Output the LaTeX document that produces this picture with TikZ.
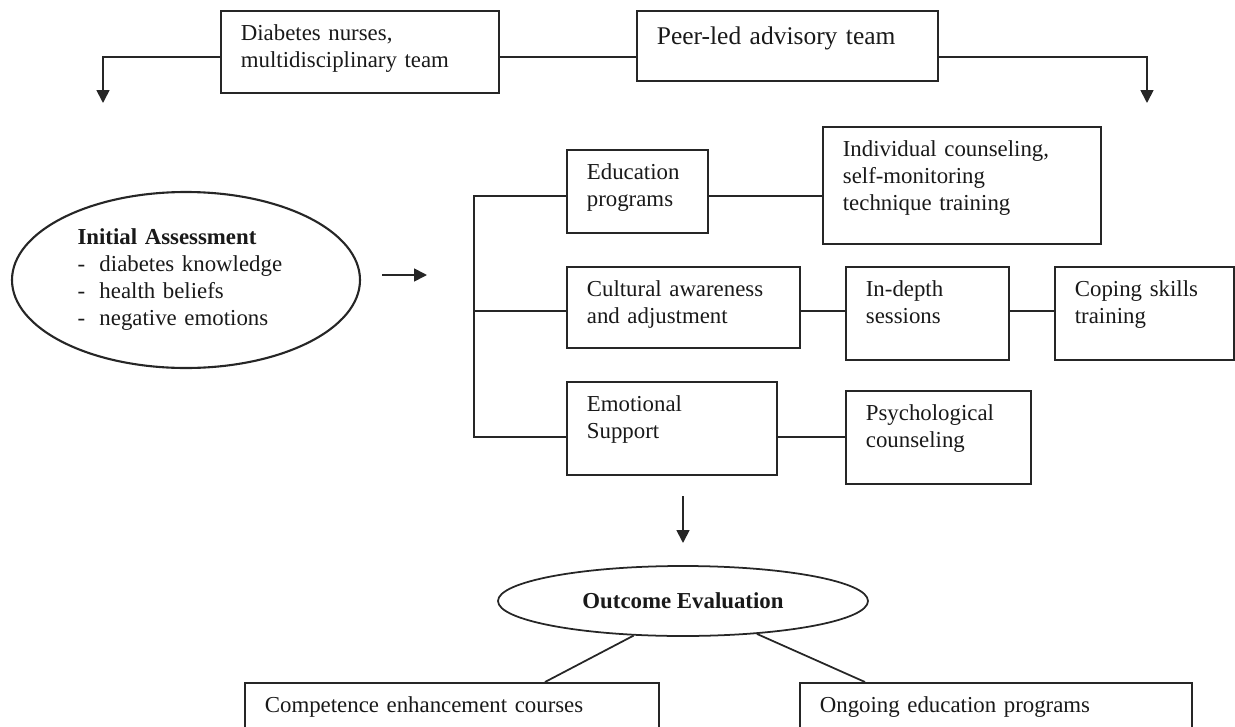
\documentclass[tikz,border=0pt]{standalone}
\usepackage{fontspec}
\setmainfont{Liberation Serif}
\usepackage{tikz}
\usetikzlibrary{positioning}
\usetikzlibrary{arrows.meta,shapes}
\usetikzlibrary{calc}

% one pixel of the layout
\newdimen\pu
\pu=0.02cm

\tikzset{
  box/.style 2 args={draw=black!85, line width=1pt, anchor=north west, align=left,
     inner xsep=20\pu, inner ysep=0pt, text height=30\pu, text width=#1\pu, text depth=#2\pu},
  oval/.style={draw=black!85, ellipse, inner sep=0pt, line width=1.2pt},
  conn/.style={draw=black!85, line width=1pt},
  arr/.style={conn, -{Triangle[width=7.4pt,length=7.4pt]}},
}

\begin{document}
\begin{tikzpicture}[x=0.02cm, y=-0.02cm, font=\fontsize{13}{15.36}\selectfont, text=black!90]

  \clip (0,0) rectangle (1235,727);

  %top teams
  \node[box={238}{52}] (nurse) at (220,10) {Diabetes nurses,\\multidisciplinary team};
  \node[box={261}{36}, text height=34\pu, font=\fontsize{14.5}{17}\selectfont] (peer) at (636,10) {Peer-led advisory team};

  \coordinate (row) at (0,57);
  \coordinate (leftend) at (103,103);
  \coordinate (rightend) at (1147,103);
  \draw[conn] (nurse.east |- row) -- (peer.west |- row);
  \draw[arr] (nurse.west |- row) -| (leftend);
  \draw[arr] (peer.east |- row) -| (rightend);

  %assessment
  \node[oval, minimum width=348\pu, minimum height=176\pu, text width=217\pu, align=left] (init) at (186,280)
     {\textbf{Initial Assessment}\\
      \makebox[22\pu][l]{-}diabetes knowledge\\
      \makebox[22\pu][l]{-}health beliefs\\
      \makebox[22\pu][l]{-}negative emotions};
  \coordinate (a1) at (382,275);
  \coordinate (a2) at (427,275);
  \draw[arr] (a1) -- (a2);

  %programs
  \node[box={101}{53}] (edu) at (566,149) {Education\\programs};
  \node[box={238}{87}] (indiv) at (822,126) {Individual counseling,\\self-monitoring\\technique training};
  \node[box={193}{51}] (cult) at (566,266) {Cultural awareness\\and adjustment};
  \node[box={123}{63}] (indepth) at (845,266) {In-depth\\sessions};
  \node[box={139}{63}] (coping) at (1054,266) {Coping skills\\training};
  \node[box={170}{63}] (emot) at (566,381) {Emotional\\Support};
  \node[box={145}{63}] (psych) at (845,390) {Psychological\\counseling};

  \coordinate (r1) at (474,196);
  \coordinate (r2) at (474,311);
  \coordinate (r3) at (474,437);
  \draw[conn] (r1 -| edu.west) -- (r1) -- (r3) -- (r3 -| emot.west);
  \draw[conn] (r2) -- (r2 -| cult.west);
  \draw[conn] (r1 -| edu.east) -- (r1 -| indiv.west);
  \draw[conn] (r2 -| cult.east) -- (r2 -| indepth.west);
  \draw[conn] (r2 -| indepth.east) -- (r2 -| coping.west);
  \draw[conn] (r3 -| emot.east) -- (r3 -| psych.west);

  %evaluation
  \coordinate (d1) at (683,496);
  \coordinate (d2) at (683,543);
  \draw[arr] (d1) -- (d2);
  \node[oval, line width=1pt, minimum width=370\pu, minimum height=70\pu,
        font=\fontsize{13}{15.36}\selectfont\bfseries] (outc) at (683,601) {Outcome Evaluation};

  \node[box={374}{30}] (comp) at (244,682) {Competence enhancement courses};
  \node[box={352}{30}] (ongo) at (799,682) {Ongoing education programs};
  \draw[conn] (outc.215) -- ([xshift=301\pu]comp.north west);
  \draw[conn] (outc.-24) -- ([xshift=66\pu]ongo.north west);

\end{tikzpicture}
\end{document}
